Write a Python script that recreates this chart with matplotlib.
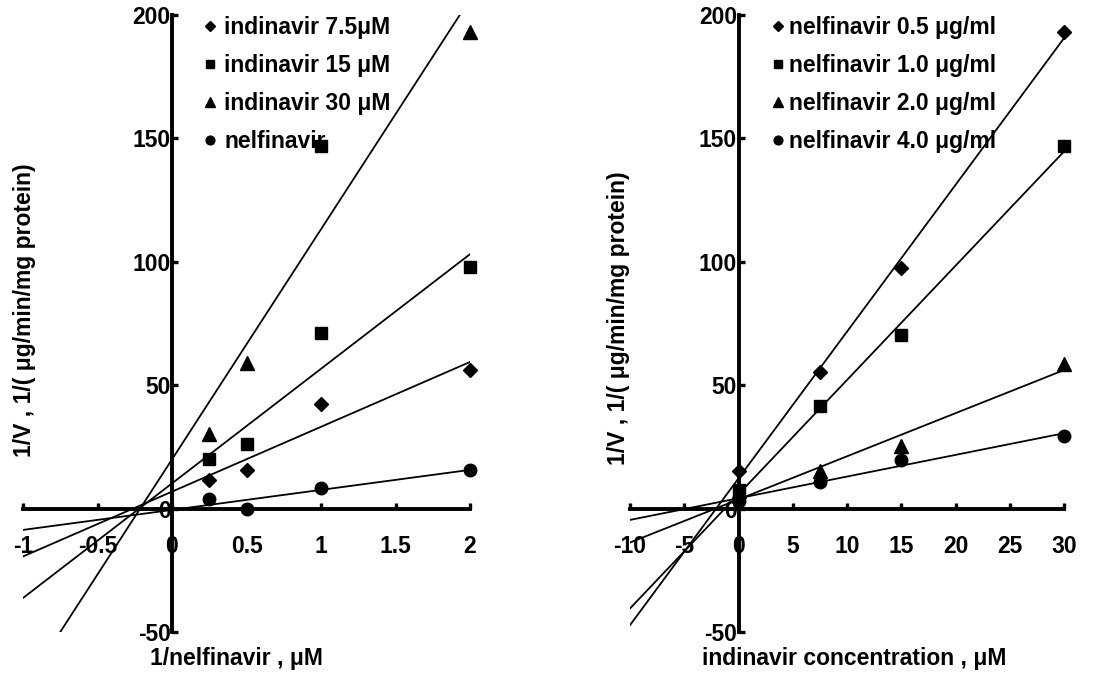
import numpy as np
import matplotlib.pyplot as plt

plt.rcParams["font.family"] = ["Liberation Sans", "DejaVu Sans"]
plt.rcParams["font.weight"] = "bold"
plt.rcParams["font.size"] = 16.5
plt.rcParams["axes.unicode_minus"] = False


#######################################################
### Data

# left panel: Dixon-type plot vs 1/nelfinavir
inv_nelf = [0.25, 0.5, 1, 2]
ind_75 = [11.7, 15.8, 42.5, 56]
ind_15 = [20, 26, 71, 98]
ind_30 = [30.4, 59, 147, 193]
nelf_only = [4, 0, 8.5, 15.8]
ind_30_markers = ["^", "^", "s", "^"]   # the x=1 point is drawn as a square

left_labels = [
    "indinavir 7.5\u03bcM",
    "indinavir 15 \u03bcM",
    "indinavir 30 \u03bcM",
    "nelfinavir",
]

# right panel: vs indinavir concentration
ind_conc = [0, 7.5, 15, 30]
nelf_05 = [15.4, 55.3, 97.4, 193]
nelf_10 = [7.7, 41.4, 70.2, 147]
nelf_20 = [7, 15.4, 25.5, 58.7]
nelf_40 = [3.2, 10.7, 19.5, 29.5]

right_labels = [
    "nelfinavir 0.5 \u03bcg/ml",
    "nelfinavir 1.0 \u03bcg/ml",
    "nelfinavir 2.0 \u03bcg/ml",
    "nelfinavir 4.0 \u03bcg/ml",
]

left_xticks = [-1, -0.5, 0, 0.5, 1, 1.5, 2]
left_xticklabels = ["-1", "-0.5", "0", "0.5", "1", "1.5", "2"]
right_xticks = [-10, -5, 0, 5, 10, 15, 20, 25, 30]
yticks = [-50, 0, 50, 100, 150, 200]

ylabel = "1/V , 1/( \u03bcg/min/mg protein)"
FS = 16.5


#######################################################
### Helpers

W, H = 1101, 675


def px_box(x0, x1, y_top, y_bot):
    return [x0 / W, 1 - y_bot / H, (x1 - x0) / W, (y_bot - y_top) / H]


def style_axes(ax, xlim, xticks, xticklabels):
    ax.set_xlim(xlim)
    ax.set_ylim(-50, 200)
    for side in ["top", "right"]:
        ax.spines[side].set_visible(False)
    ax.spines["left"].set_position(("data", 0))
    ax.spines["bottom"].set_position(("data", 0))
    for side in ["left", "bottom"]:
        ax.spines[side].set_linewidth(2.8)
        ax.spines[side].set_zorder(1)
    ax.set_xticks(xticks)
    ax.set_xticklabels(xticklabels)
    ax.set_yticks(yticks)
    ax.tick_params(axis="both", direction="in", length=4.5, width=2.4,
                   labelsize=FS)
    ax.tick_params(axis="x", pad=19)
    ax.tick_params(axis="y", pad=1)
    for lab in ax.get_xticklabels() + ax.get_yticklabels():
        lab.set_fontweight("bold")


def fit_line(ax, x, y, xlim):
    k, b = np.polyfit(x, y, 1)
    xs = np.array(xlim)
    ax.plot(xs, k * xs + b, color="black", linewidth=1.3, zorder=2)


#######################################################
### Figure

fig = plt.figure(figsize=(W / 100, H / 100), dpi=100)

ax1 = fig.add_axes(px_box(23, 470, 15, 632))
ax2 = fig.add_axes(px_box(630, 1064, 15, 632))

left_xlim = (-1, 2)
right_xlim = (-10, 30)

style_axes(ax1, left_xlim, left_xticks, left_xticklabels)
style_axes(ax2, right_xlim, right_xticks, [str(t) for t in right_xticks])

mk = dict(color="black", linestyle="none", clip_on=False, zorder=3)

# left panel
ax1.plot(inv_nelf, ind_75, marker="D", markersize=7, label=left_labels[0], **mk)
ax1.plot(inv_nelf, ind_15, marker="s", markersize=9, label=left_labels[1], **mk)
tri_x = [x for x, m in zip(inv_nelf, ind_30_markers) if m == "^"]
tri_y = [y for y, m in zip(ind_30, ind_30_markers) if m == "^"]
sq_x = [x for x, m in zip(inv_nelf, ind_30_markers) if m == "s"]
sq_y = [y for y, m in zip(ind_30, ind_30_markers) if m == "s"]
ax1.plot(tri_x, tri_y, marker="^", markersize=9.5, label=left_labels[2], **mk)
ax1.plot(sq_x, sq_y, marker="s", markersize=9, **mk)
ax1.plot(inv_nelf, nelf_only, marker="o", markersize=9, label=left_labels[3], **mk)

for series in [ind_75, ind_15, ind_30, nelf_only]:
    fit_line(ax1, inv_nelf, series, left_xlim)

# right panel
ax2.plot(ind_conc, nelf_05, marker="D", markersize=7, label=right_labels[0], **mk)
ax2.plot(ind_conc, nelf_10, marker="s", markersize=9, label=right_labels[1], **mk)
ax2.plot(ind_conc, nelf_20, marker="^", markersize=9.5, label=right_labels[2], **mk)
ax2.plot(ind_conc, nelf_40, marker="o", markersize=9, label=right_labels[3], **mk)

for series in [nelf_05, nelf_10, nelf_20, nelf_40]:
    fit_line(ax2, ind_conc, series, right_xlim)

# legends
leg_kw = dict(
    loc="upper left",
    bbox_transform=fig.transFigure,
    frameon=False,
    borderpad=0,
    borderaxespad=0,
    handlelength=0.45,
    labelspacing=0.66,
    markerscale=0.7,
    prop={"weight": "bold", "size": FS},
)
ax1.legend(bbox_to_anchor=(205 / W, 1 - 16 / H), handletextpad=0.4, **leg_kw)
ax2.legend(bbox_to_anchor=(773 / W, 1 - 16 / H), handletextpad=0.25, **leg_kw)

# axis titles
fig.text(236 / W, 1 - 659 / H, "1/nelfinavir , \u03bcM",
         ha="center", va="center", fontsize=FS, fontweight="bold")
fig.text(854 / W, 1 - 659 / H, "indinavir concentration , \u03bcM",
         ha="center", va="center", fontsize=FS, fontweight="bold")
fig.text(25 / W, 1 - 310 / H, ylabel, rotation=90,
         ha="center", va="center", fontsize=FS, fontweight="bold")
fig.text(618 / W, 1 - 318 / H, ylabel, rotation=90,
         ha="center", va="center", fontsize=FS, fontweight="bold")

fig.savefig("out.png", dpi=100)
